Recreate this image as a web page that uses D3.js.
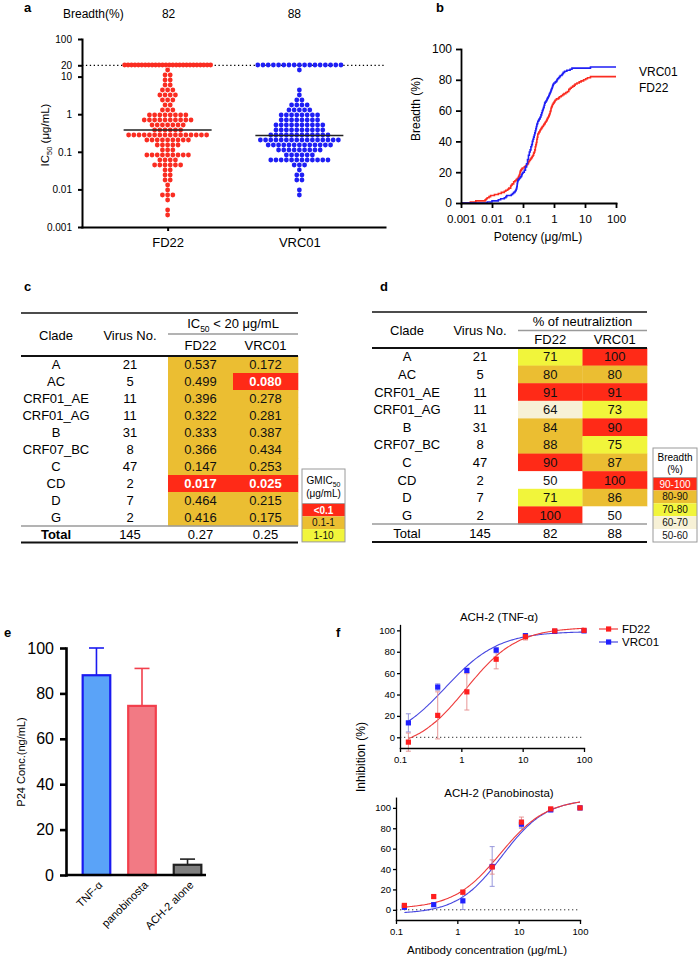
<!DOCTYPE html>
<html>
<head>
<meta charset="utf-8">
<script src="https://cdn.jsdelivr.net/npm/d3@7"></script>
<style>
  body { margin: 0; background: #fff; }
  svg { display: block; }
</style>
</head>
<body>
<svg id="fig" width="700" height="959"></svg>
<script>
// ---------- data ----------
// panel a/b: IC50 (ug/mL) of the neutralized viruses; the rest are plotted at the 20 ug/mL cutoff
const antibodies = ['FD22', 'VRC01'];
const fd22IC50 = [
  0.002, 0.003, 0.006, 0.0065, 0.007, 0.008, 0.009,
  0.012, 0.016, 0.02, 0.025, 0.028,
  0.032, 0.035, 0.04, 0.04, 0.042, 0.045, 0.05, 0.05, 0.055, 0.06, 0.065, 0.07, 0.072, 0.075, 0.078, 0.08, 0.08, 0.082, 0.085, 0.09, 0.095,
  0.11, 0.12, 0.13, 0.14, 0.15, 0.15, 0.16, 0.17, 0.18, 0.19, 0.2,
  0.21, 0.22, 0.22, 0.23, 0.24, 0.24, 0.25, 0.25, 0.25, 0.26, 0.26, 0.27, 0.27, 0.28, 0.28, 0.28, 0.29, 0.29, 0.3, 0.3, 0.3,
  0.32, 0.33, 0.35, 0.36, 0.38, 0.4, 0.42, 0.45, 0.47, 0.5,
  0.52, 0.55, 0.58, 0.6, 0.62, 0.65, 0.68, 0.7, 0.72, 0.75, 0.75, 0.78, 0.8, 0.8, 0.82, 0.85, 0.88, 0.9, 0.95, 1.0, 1.05,
  1.1, 1.2, 1.4, 1.5, 1.7, 1.9,
  2.1, 2.4, 2.7, 3.0, 3.0, 3.3, 3.6, 4.0, 4.5, 4.8,
  5.5, 6.5, 7.5, 9.0,
  10.5, 12, 15
];
const vrc01IC50 = [
  0.007, 0.01,
  0.016, 0.019, 0.025, 0.028, 0.03,
  0.042, 0.046, 0.05, 0.055, 0.058,
  0.06, 0.062, 0.063, 0.064, 0.065, 0.065, 0.066, 0.067, 0.068, 0.07,
  0.075, 0.08, 0.085, 0.09, 0.092, 0.095, 0.1,
  0.11, 0.11, 0.12, 0.12, 0.12, 0.13, 0.13, 0.13, 0.14, 0.14, 0.14, 0.14, 0.15, 0.15, 0.15, 0.15,
  0.16, 0.16, 0.16, 0.17, 0.17, 0.18, 0.18, 0.18, 0.19, 0.19, 0.2, 0.2, 0.2,
  0.21, 0.21, 0.22, 0.22, 0.23, 0.23, 0.24, 0.24, 0.25, 0.25, 0.26, 0.26, 0.27, 0.27, 0.28, 0.28, 0.29, 0.3, 0.3,
  0.32, 0.33, 0.35, 0.36, 0.38, 0.38, 0.4, 0.4, 0.42, 0.42, 0.44, 0.45, 0.46, 0.48, 0.48, 0.5, 0.5,
  0.52, 0.55, 0.58, 0.6, 0.62, 0.65, 0.68, 0.7, 0.72, 0.75, 0.78, 0.8, 0.82, 0.85, 0.88, 0.9, 0.92, 0.95, 1.0,
  1.1, 1.2, 1.25, 1.3, 1.4, 1.5, 1.6, 1.8, 1.9, 2.0,
  2.2, 2.6, 3.3, 3.8,
  15
];
const notNeutralized = [26, 17];
const totalViruses = 145;
const IC50_CUTOFF = 20;
const breadthPct = [82, 88];
const medianIC50 = [0.38, 0.27];
const icTicks = [0.001, 0.01, 0.1, 1, 10, 20, 100];
const potencyTicks = [0.001, 0.01, 0.1, 1, 10, 100];
const pctTicks = [0, 20, 40, 60, 80, 100];

// panel c/d tables
const clades = ['A', 'AC', 'CRF01_AE', 'CRF01_AG', 'B', 'CRF07_BC', 'C', 'CD', 'D', 'G'];
const virusNo = [21, 5, 11, 11, 31, 8, 47, 2, 7, 2];
const gmicFD22 = ['0.537', '0.499', '0.396', '0.322', '0.333', '0.366', '0.147', '0.017', '0.464', '0.416'];
const gmicVRC01 = ['0.172', '0.080', '0.278', '0.281', '0.387', '0.434', '0.253', '0.025', '0.215', '0.175'];
const gmicTotal = ['0.27', '0.25'];
const neutFD22 = ['71', '80', '91', '64', '84', '88', '90', '50', '71', '100'];
const neutVRC01 = ['100', '80', '91', '73', '90', '75', '87', '100', '86', '50'];
const neutTotal = ['82', '88'];
const gmicLegend = ['<0.1', '0.1-1', '1-10'];
const breadthLegend = ['90-100', '80-90', '70-80', '60-70', '50-60'];

// panel e
const p24Labels = ['TNF-α', 'panobinosta', 'ACH-2 alone'];
const p24Mean = [88, 74.5, 4.5];
const p24SD = [12, 16.5, 2.5];

// panel f: 3-fold dilutions, inhibition (%) mean and error
const antibodyConc = [0.137, 0.412, 1.23, 3.70, 11.1, 33.3, 100];
const tnfFD22 = [-4.5, 20.5, 42.5, 73, 94, 99.5, 100];
const tnfFD22Err = [8.5, 22, 17, 9, 3, 1, 0];
const tnfVRC01 = [13.5, 47, 62.5, 81.5, 95, 99, 99.5];
const tnfVRC01Err = [8.5, 3, 2, 2.5, 2, 1, 0];
const panoFD22 = [4.3, 13, 17.3, 42, 86, 99, 100];
const panoFD22Err = [1.5, 1.5, 2, 7, 5, 1.5, 0];
const panoVRC01 = [2.5, 5, 8.8, 42.5, 84, 98, 100];
const panoVRC01Err = [2, 1.5, 8.5, 19.5, 4, 1.5, 0];
// four-parameter fits: [bottom, top, EC50, hill]
const tnfFD22Fit = [-12, 103, 1.2, 1.05];
const tnfVRC01Fit = [-6, 99, 0.55, 1.0];
const panoFD22Fit = [1, 109, 5, 1.15];
const panoVRC01Fit = [-4, 109, 5.3, 1.2];

// ---------- styles ----------
const FONT = "'Liberation Sans', Arial, Helvetica, sans-serif";
const RED = '#ff2a17', ORANGE = '#ebbe32', YELLOW = '#f1f53b', CREAM = '#f7f1d6';
const DOT_RED = '#fa2d22', DOT_BLUE = '#1f1ff5';

const svg = d3.select('#fig').attr('font-family', FONT);

function styleAxis(sel, fontSize, width) {
  sel.attr('font-size', fontSize).attr('font-family', FONT);
  sel.select('.domain').attr('stroke', '#000').attr('stroke-width', width).attr('stroke-linecap', 'square');
  sel.selectAll('.tick line').attr('stroke', '#000').attr('stroke-width', width);
  sel.selectAll('.tick text').attr('fill', '#000');
}

function subscript(text, before, sub, after, size) {
  text.append('tspan').text(before);
  text.append('tspan').attr('font-size', size).attr('dy', size * 0.4).text(sub);
  if (after) text.append('tspan').attr('dy', -size * 0.4).text(after);
}

function label(g, x, y, txt, size, opts = {}) {
  return g.append('text')
    .attr('x', x).attr('y', y)
    .attr('font-size', size)
    .attr('text-anchor', opts.anchor || 'middle')
    .attr('font-weight', opts.bold ? 'bold' : null)
    .attr('fill', opts.fill || '#000')
    .text(txt);
}

// ---------- panel letters ----------
[['a', 24, 12], ['b', 436, 12], ['c', 24, 291], ['d', 380, 291], ['e', 4, 637], ['f', 336, 637]]
  .forEach(([t, x, y]) => label(svg, x, y, t, 13, { anchor: 'start', bold: true }));

/**
 * Rows of dots like a GraphPad scatter: values in the same pixel band sit side by side
 */
function swarm(values, yScale, cx, rowH, dotStep, maxHalf) {
  const rows = d3.group(values.slice().sort(d3.ascending), v => Math.round(yScale(v) / rowH));
  const pts = [];
  rows.forEach((vs, key) => {
    const n = vs.length;
    const step = n > 1 ? Math.min(dotStep, 2 * maxHalf / (n - 1)) : 0;
    vs.forEach((v, i) => pts.push({ v, x: cx + (i - (n - 1) / 2) * step, y: key * rowH }));
  });
  return pts;
}

// ---------- panel a ----------
function drawScatter() {
  const g = svg.append('g');
  const y = d3.scaleLog().domain([0.001, 100]).range([227, 39]);
  const x = d3.scalePoint().domain(antibodies).range([82, 385]).padding(0.65);

  // 20 ug/mL cutoff
  g.append('line')
    .attr('x1', 82).attr('x2', 385).attr('y1', y(IC50_CUTOFF)).attr('y2', y(IC50_CUTOFF))
    .attr('stroke', '#000').attr('stroke-width', 1.2).attr('stroke-dasharray', '1.3,2.6');

  const colors = [DOT_RED, DOT_BLUE];
  [fd22IC50, vrc01IC50].forEach((vals, gi) => {
    const all = vals.concat(d3.range(notNeutralized[gi]).map(() => IC50_CUTOFF));
    const cx = x(antibodies[gi]);
    const pts = swarm(all, y, cx, 5, 5.2, 43);
    g.append('g').selectAll('circle')
      .data(pts)
      .enter()
      .append('circle')
      .attr('cx', d => d.x)
      .attr('cy', d => d.y)
      .attr('r', 2.4)
      .attr('fill', colors[gi]);
    g.append('line')
      .attr('x1', cx - 44).attr('x2', cx + 44)
      .attr('y1', y(medianIC50[gi])).attr('y2', y(medianIC50[gi]))
      .attr('stroke', '#222').attr('stroke-width', 1.5);
  });

  const yAxis = g.append('g').attr('transform', 'translate(82,0)')
    .call(d3.axisLeft(y).tickValues(icTicks).tickFormat(String).tickSize(4).tickSizeOuter(0).tickPadding(6));
  styleAxis(yAxis, 10, 2);
  const xAxis = g.append('g').attr('transform', 'translate(0,227)')
    .call(d3.axisBottom(x).tickSize(4).tickSizeOuter(0).tickPadding(7));
  styleAxis(xAxis, 13, 2);

  const yl = g.append('text')
    .attr('transform', 'translate(49,135) rotate(-90)')
    .attr('text-anchor', 'middle').attr('font-size', 11.5);
  subscript(yl, 'IC', '50', ' (μg/mL)', 7.5);

  label(g, 63, 18, 'Breadth(%)', 12, { anchor: 'start' });
  breadthPct.forEach((b, i) => label(g, x(antibodies[i]) + (i ? -5 : 1), 18, b, 12));
}

// ---------- panel b ----------
function drawBreadth() {
  const g = svg.append('g');
  const x = d3.scaleLog().domain([0.001, 100]).range([461, 616]);
  const y = d3.scaleLinear().domain([0, 100]).range([203, 49]);
  const line = d3.line().x(d => x(d[0])).y(d => y(d[1])).curve(d3.curveStepAfter);

  const colors = [DOT_RED, DOT_BLUE];
  [fd22IC50, vrc01IC50].forEach((vals, gi) => {
    const sorted = vals.slice().sort(d3.ascending);
    const pts = [[0.001, 0]]
      .concat(sorted.map((v, i) => [v, (i + 1) / totalViruses * 100]))
      .concat([[100, sorted.length / totalViruses * 100]]);
    g.append('path')
      .attr('d', line(pts))
      .attr('fill', 'none')
      .attr('stroke', colors[gi])
      .attr('stroke-width', 1.6);
  });

  const yAxis = g.append('g').attr('transform', 'translate(461,0)')
    .call(d3.axisLeft(y).tickValues(pctTicks).tickSize(5).tickSizeOuter(0).tickPadding(4));
  styleAxis(yAxis, 12, 1.8);
  const xAxis = g.append('g').attr('transform', 'translate(0,203)')
    .call(d3.axisBottom(x).tickValues(potencyTicks).tickFormat(String).tickSize(5).tickSizeOuter(0).tickPadding(7));
  styleAxis(xAxis, 11.5, 1.8);

  label(g, 538, 241, 'Potency (μg/mL)', 12);
  label(g, 0, 0, 'Breadth (%)', 12).attr('transform', 'translate(420,109) rotate(-90)');
  label(g, 639, 76, 'VRC01', 12, { anchor: 'start' });
  label(g, 639, 92, 'FD22', 12, { anchor: 'start' });
}

// ---------- panels c and d ----------
function drawTable(t) {
  const g = svg.append('g').attr('font-size', 13);
  const cellW = (t.right - t.cellLeft) / 2;
  const colX = [t.cladeX, t.virusX, t.cellLeft + cellW / 2, t.cellLeft + cellW * 1.5];
  const rowsEnd = t.rowTop + t.rowH * clades.length;

  // coloured value cells
  t.values.forEach((vals, ci) => {
    g.append('g').selectAll('rect')
      .data(vals)
      .enter()
      .append('rect')
      .attr('x', t.cellLeft + ci * cellW)
      .attr('y', (d, i) => t.rowTop + t.rowH * i)
      .attr('width', cellW + 0.3)
      .attr('height', t.rowH + 0.3)
      .attr('fill', d => t.color(+d));
  });

  // body
  clades.forEach((c, i) => {
    const cy = t.rowTop + t.rowH * (i + 0.5) + 4.6;
    label(g, colX[0], cy, c, 13);
    label(g, colX[1], cy, virusNo[i], 13);
    t.values.forEach((vals, ci) => {
      const white = t.whiteOnRed && t.color(+vals[i]) === RED;
      label(g, colX[2 + ci], cy, vals[i], 13, { bold: white, fill: white ? '#fff' : '#111' });
    });
  });

  const totalY = (rowsEnd + t.bottomLine) / 2 + 4.6;
  label(g, colX[0], totalY, 'Total', 13, { bold: t.boldTotal });
  label(g, colX[1], totalY, totalViruses, 13);
  t.total.forEach((v, ci) => label(g, colX[2 + ci], totalY, v, 13));

  // header
  label(g, colX[0], t.headerMid + 4.6, 'Clade', 13);
  label(g, colX[1], t.headerMid + 4.6, 'Virus No.', 13);
  const h1 = label(g, t.cellLeft + cellW, t.header1 + 4.6, '', 13);
  t.groupTitle(h1);
  label(g, colX[2], t.header2 + 4.6, 'FD22', 13);
  label(g, colX[3], t.header2 + 4.6, 'VRC01', 13);

  // rules
  const rule = (x1, x2, yy, w, c) => g.append('line')
    .attr('x1', x1).attr('x2', x2).attr('y1', yy).attr('y2', yy)
    .attr('stroke', c).attr('stroke-width', w);
  rule(t.left, t.right, t.topLine, 1.3, '#111');
  rule(t.cellLeft, t.right, t.grayLine, 1.5, '#9a9a9a');
  rule(t.left, t.right, t.rowTop, 2, '#111');
  rule(t.left, t.right, rowsEnd, 1.5, '#9a9a9a');
  rule(t.left, t.right, t.bottomLine, 2, '#111');
}

function drawLegend(L) {
  const g = svg.append('g');
  L.rows.forEach((r, i) => {
    g.append('rect')
      .attr('x', L.x).attr('y', L.rowTop + i * L.rowH)
      .attr('width', L.w).attr('height', L.rowH)
      .attr('fill', L.colors[i]);
    label(g, L.x + L.w / 2, L.rowTop + (i + 0.5) * L.rowH + 3.6, r, 10,
      { fill: L.colors[i] === RED ? '#fff' : '#111', bold: L.colors[i] === RED && L.boldRed });
  });
  g.append('line')
    .attr('x1', L.x).attr('x2', L.x + L.w).attr('y1', L.rowTop).attr('y2', L.rowTop)
    .attr('stroke', '#999').attr('stroke-width', 0.8);
  g.append('rect')
    .attr('x', L.x).attr('y', L.y)
    .attr('width', L.w).attr('height', L.rowTop + L.rows.length * L.rowH - L.y)
    .attr('fill', 'none').attr('stroke', '#9a9a9a').attr('stroke-width', 1);
  L.title(g);
}

drawTable({
  left: 21, right: 298, cellLeft: 168, cladeX: 56, virusX: 130,
  topLine: 313, header1: 323.5, grayLine: 334, header2: 345.5, headerMid: 335,
  rowTop: 356, rowH: 17, bottomLine: 542.5,
  values: [gmicFD22, gmicVRC01], total: gmicTotal, boldTotal: true, whiteOnRed: true,
  color: d3.scaleThreshold().domain([0.1, 1]).range([RED, ORANGE, YELLOW]),
  groupTitle: t => subscript(t, 'IC', '50', ' < 20 μg/mL', 8.5)
});

drawTable({
  left: 372, right: 647, cellLeft: 518, cladeX: 407, virusX: 480,
  topLine: 312, header1: 321.5, grayLine: 330.5, header2: 339.5, headerMid: 330.5,
  rowTop: 348, rowH: 17.6, bottomLine: 542,
  values: [neutFD22, neutVRC01], total: neutTotal, boldTotal: false, whiteOnRed: false,
  color: d3.scaleThreshold().domain([60, 70, 80, 90]).range(['#ffffff', CREAM, YELLOW, ORANGE, RED]),
  groupTitle: t => t.text('% of neutraliztion')
});

drawLegend({
  x: 302, y: 469, w: 43, rowTop: 503.5, rowH: 12.8,
  rows: gmicLegend, colors: [RED, ORANGE, YELLOW], boldRed: true,
  title: g => {
    const t = label(g, 323.5, 484, '', 10);
    subscript(t, 'GMIC', '50', '', 7);
    label(g, 323.5, 497, '(μg/mL)', 10);
  }
});

drawLegend({
  x: 653, y: 448, w: 44, rowTop: 477.5, rowH: 12.9,
  rows: breadthLegend, colors: [RED, ORANGE, YELLOW, CREAM, '#ffffff'], boldRed: false,
  title: g => {
    label(g, 675, 461, 'Breadth', 10);
    label(g, 675, 473, '(%)', 10);
  }
});

// ---------- panel e ----------
function drawP24() {
  const g = svg.append('g');
  const y = d3.scaleLinear().domain([0, 100]).range([875, 648]);
  const x = d3.scaleBand().domain(p24Labels).range([68, 216]).paddingInner(0.35).paddingOuter(0.3);
  const fills = ['#5aa3f8', '#f27a84', '#7f7f7f'];
  const strokes = ['#1a1af0', '#f23f4c', '#222'];

  p24Labels.forEach((lab, i) => {
    const cx = x(lab) + x.bandwidth() / 2;
    const top = y(p24Mean[i] + p24SD[i]);
    g.append('line').attr('x1', cx).attr('x2', cx).attr('y1', y(p24Mean[i])).attr('y2', top)
      .attr('stroke', strokes[i]).attr('stroke-width', 1.6);
    g.append('line').attr('x1', cx - 7.5).attr('x2', cx + 7.5).attr('y1', top).attr('y2', top)
      .attr('stroke', strokes[i]).attr('stroke-width', 1.6);
  });

  g.append('g').selectAll('rect')
    .data(p24Mean)
    .enter()
    .append('rect')
    .attr('x', (d, i) => x(p24Labels[i]) + 1)
    .attr('y', d => y(d))
    .attr('width', x.bandwidth() - 2)
    .attr('height', d => y(0) - y(d))
    .attr('fill', (d, i) => fills[i])
    .attr('stroke', (d, i) => strokes[i])
    .attr('stroke-width', 2.2);

  const yAxis = g.append('g').attr('transform', 'translate(66,0)')
    .call(d3.axisLeft(y).tickValues(pctTicks).tickSize(6).tickSizeOuter(0).tickPadding(6));
  styleAxis(yAxis, 16, 2.6);
  g.append('line').attr('x1', 66).attr('x2', 206).attr('y1', y(0)).attr('y2', y(0))
    .attr('stroke', '#000').attr('stroke-width', 2.6);

  p24Labels.forEach(lab => {
    label(g, 0, 0, lab, 11, { anchor: 'end' })
      .attr('dy', '0.35em')
      .attr('transform', `translate(${x(lab) + x.bandwidth() / 2 + 4},883) rotate(-45)`);
  });
  label(g, 0, 0, 'P24 Conc.(ng/mL)', 11).attr('transform', 'translate(25,762) rotate(-90)');
}

// ---------- panel f ----------
const logistic = (p, c) => p[0] + (p[1] - p[0]) / (1 + Math.pow(p[2] / c, p[3]));

function drawDose(p) {
  const g = svg.append('g');
  const x = d3.scaleLog().domain([0.1, 100]).range(p.xRange);
  const y = d3.scaleLinear().domain(p.yDomain).range(p.yRange);

  g.append('line')
    .attr('x1', p.xRange[0]).attr('x2', p.xRange[1]).attr('y1', y(0)).attr('y2', y(0))
    .attr('stroke', '#333').attr('stroke-width', 1).attr('stroke-dasharray', '1.3,2.7');

  // fitted curves
  const first = antibodyConc[0], last = antibodyConc[antibodyConc.length - 1];
  const grid = d3.range(0, 121).map(i => first * Math.pow(last / first, i / 120));
  const line = d3.line().x(d => x(d)).curve(d3.curveBasis);
  p.series.forEach(s => {
    g.append('path')
      .attr('d', line.y(d => y(logistic(s.fit, d)))(grid))
      .attr('fill', 'none').attr('stroke', s.line).attr('stroke-width', 1.1);
  });

  // error bars and markers
  p.series.forEach(s => {
    const eg = g.append('g').attr('stroke', s.err).attr('stroke-width', 0.9);
    antibodyConc.forEach((c, i) => {
      if (!s.errs[i]) return;
      const cx = x(c), y1 = y(s.vals[i] - s.errs[i]), y2 = y(s.vals[i] + s.errs[i]);
      eg.append('line').attr('x1', cx).attr('x2', cx).attr('y1', y1).attr('y2', y2);
      eg.append('line').attr('x1', cx - 2.5).attr('x2', cx + 2.5).attr('y1', y1).attr('y2', y1);
      eg.append('line').attr('x1', cx - 2.5).attr('x2', cx + 2.5).attr('y1', y2).attr('y2', y2);
    });
  });
  p.series.forEach(s => {
    g.append('g').selectAll('rect')
      .data(s.vals)
      .enter()
      .append('rect')
      .attr('x', (d, i) => x(antibodyConc[i]) - 2.6)
      .attr('y', d => y(d) - 2.6)
      .attr('width', 5.2).attr('height', 5.2)
      .attr('fill', s.color);
  });

  const yAxis = g.append('g').attr('transform', `translate(${p.xRange[0]},0)`)
    .call(d3.axisLeft(y).tickValues(pctTicks).tickSize(3).tickSizeOuter(0).tickPadding(2));
  styleAxis(yAxis, 9.5, 1.3);
  const xAxis = g.append('g').attr('transform', `translate(0,${p.yRange[0]})`)
    .call(d3.axisBottom(x).tickValues([0.1, 1, 10, 100]).tickFormat(String).tickSize(4).tickSizeOuter(0).tickPadding(4));
  styleAxis(xAxis, 9.5, 1.3);

  label(g, 499, p.titleY, p.title, 11.5);
}

const seriesStyle = {
  FD22: { color: '#ff1e1e', line: '#ee3b3b', err: '#e48a8a' },
  VRC01: { color: '#2020ff', line: '#4848e0', err: '#8c8cd8' }
};

drawDose({
  xRange: [400, 584], yDomain: [-10, 105], yRange: [748, 625],
  title: 'ACH-2 (TNF-α)', titleY: 621,
  series: [
    Object.assign({ vals: tnfVRC01, errs: tnfVRC01Err, fit: tnfVRC01Fit }, seriesStyle.VRC01),
    Object.assign({ vals: tnfFD22, errs: tnfFD22Err, fit: tnfFD22Fit }, seriesStyle.FD22)
  ]
});
drawDose({
  xRange: [396, 580], yDomain: [-10, 110], yRange: [920, 797.7],
  title: 'ACH-2 (Panobinosta)', titleY: 797,
  series: [
    Object.assign({ vals: panoVRC01, errs: panoVRC01Err, fit: panoVRC01Fit }, seriesStyle.VRC01),
    Object.assign({ vals: panoFD22, errs: panoFD22Err, fit: panoFD22Fit }, seriesStyle.FD22)
  ]
});

// legend and shared labels of panel f
antibodies.forEach((ab, i) => {
  const ly = 629 + i * 13;
  const st = seriesStyle[ab];
  svg.append('line').attr('x1', 599).attr('x2', 618).attr('y1', ly).attr('y2', ly)
    .attr('stroke', st.line).attr('stroke-width', 1.2);
  svg.append('rect').attr('x', 606).attr('y', ly - 2.6).attr('width', 5.2).attr('height', 5.2)
    .attr('fill', st.color);
  label(svg, 622, ly + 4, ab, 11.5, { anchor: 'start' });
});
label(svg, 0, 0, 'Inhibition (%)', 12).attr('transform', 'translate(365,757) rotate(-90)');
label(svg, 487, 954, 'Antibody concentration (μg/mL)', 11.5);

drawScatter();
drawBreadth();
drawP24();
</script>
</body>
</html>
